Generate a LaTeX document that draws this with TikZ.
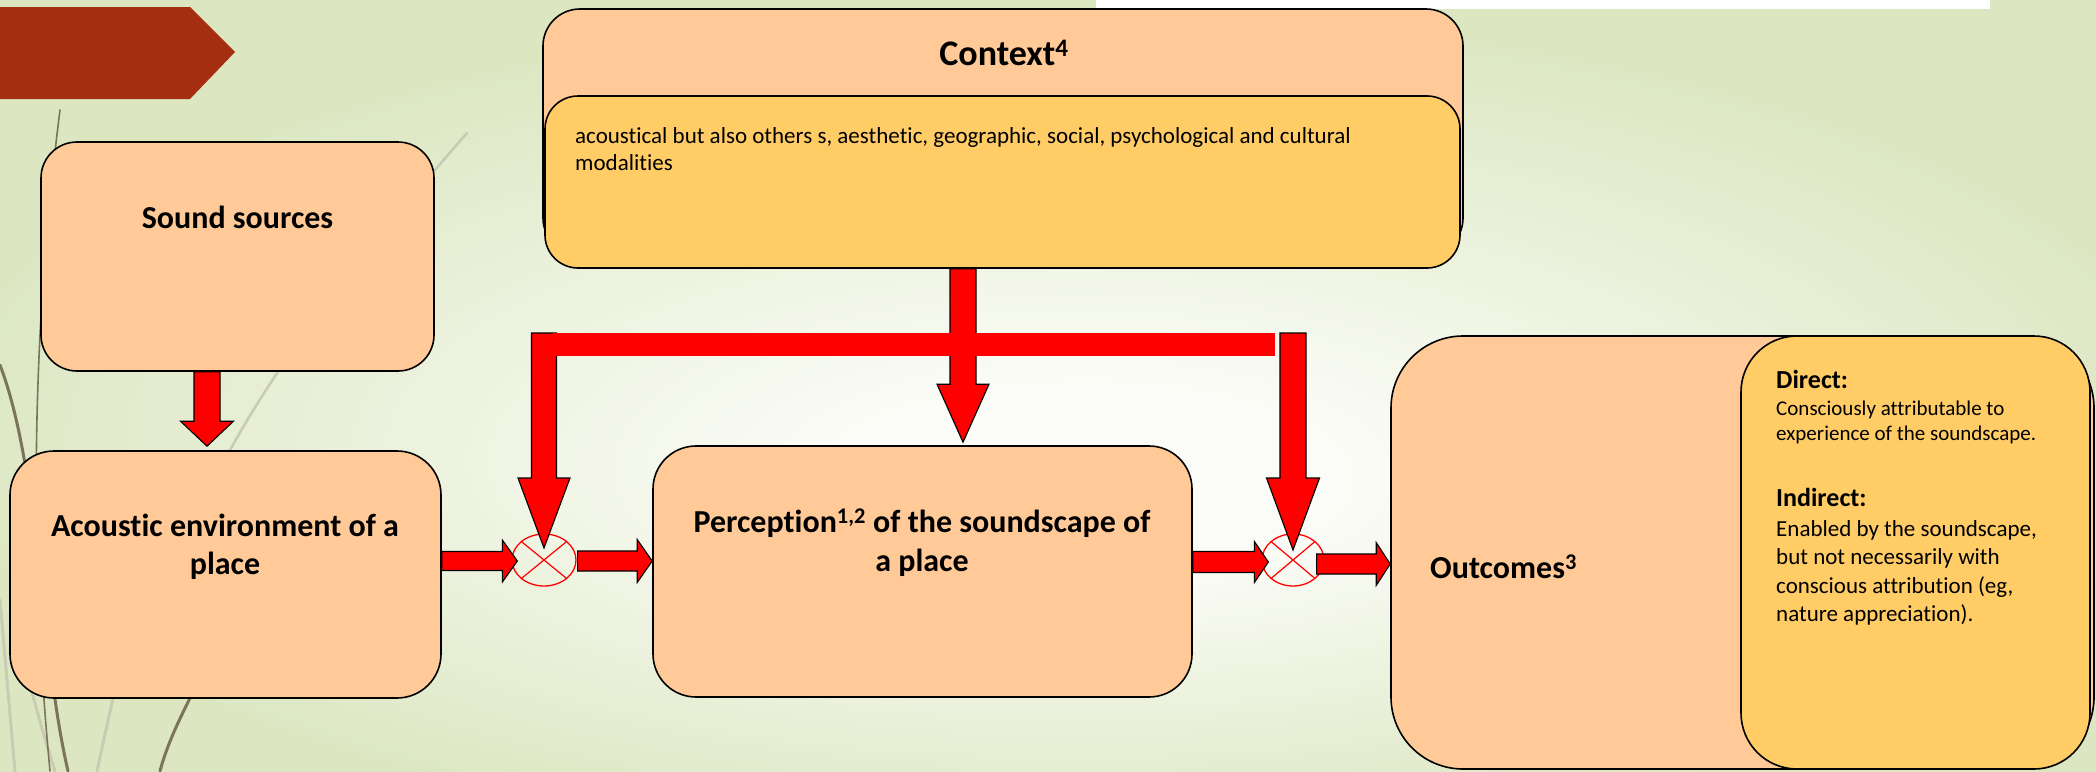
\documentclass[tikz,border=0pt]{standalone}
\usepackage{fontspec}
\setmainfont[Ligatures=NoCommon]{Carlito}
\usetikzlibrary{shapes.geometric,calc}

\definecolor{peach}{RGB}{255,202,152}
\definecolor{gold}{RGB}{255,204,102}
\definecolor{banner}{RGB}{165,46,17}
\definecolor{bgin}{RGB}{251,252,247}
\definecolor{bgout}{RGB}{220,231,194}
\definecolor{stemdark}{RGB}{122,116,90}
\definecolor{stemlight}{RGB}{200,204,178}

% soft slide background: pale centre fading to light green
\pgfdeclareradialshading{slidebg}{\pgfpoint{1bp}{-7bp}}{%
  color(0bp)=(bgin); color(6bp)=(bgin); color(27bp)=(bgout); color(45bp)=(bgout)}

% block arrow pointing down: start, tip, half shaft, half head, head length
\newcommand\dropblock[5]{%
  \draw[blockarrow] let \p1=(#1), \p2=(#2) in
    (\x2-#3,\y1) -- (\x2-#3,\y2+#5) -- (\x2-#4,\y2+#5) -- (\x2,\y2)
    -- (\x2+#4,\y2+#5) -- (\x2+#3,\y2+#5) -- (\x2+#3,\y1) -- cycle;}
% block arrow pointing right: start, tip, half shaft, half head, head length
\newcommand\pushblock[5]{%
  \draw[blockarrow] let \p1=(#1), \p2=(#2) in
    (\x1,\y2+#3) -- (\x2-#5,\y2+#3) -- (\x2-#5,\y2+#4) -- (\x2,\y2)
    -- (\x2-#5,\y2-#4) -- (\x2-#5,\y2-#3) -- (\x1,\y2-#3) -- cycle;}

\begin{document}
\begin{tikzpicture}[x=1pt,y=-1pt,
  box/.style={rectangle, draw=black, line width=1.6pt, fill=peach,
    rounded corners=#1, inner sep=0pt},
  box/.default=40pt,
  goldbox/.style={box=#1, fill=gold},
  blockarrow/.style={fill=red, draw=black, line width=1.1pt, line join=miter},
  junction/.style={ellipse, draw=red, line width=1.3pt, minimum width=64pt,
    minimum height=52pt, inner sep=0pt},
  heading/.style={font=\fontsize{32}{39}\selectfont\bfseries, align=center, inner sep=0pt},
  bodytext/.style={align=left, inner sep=0pt},
  stem/.style={line width=#1, line cap=round},
]
\useasboundingbox (0,0) rectangle (2096,771);
\shade[shading=slidebg] (0,0) rectangle (2096,771);
\fill[white] (1096,0) rectangle (1990,9);

% grass stems at the left margin
\draw[stem=2.6pt, stemlight] (467,133) .. controls (330,290) and (230,420) .. (180,560);
\draw[stem=3pt, stemlight] (0,600) -- (15,771);
\draw[stem=3pt, stemlight] (113,698) -- (97,771);
\draw[stem=3pt, stemlight] (20,640) .. controls (30,690) and (45,740) .. (55,771);
\draw[stem=1.6pt, stemdark] (60,110) .. controls (36,300) and (26,520) .. (50,771);
\draw[stem=3pt, stemdark] (0,365) .. controls (40,470) and (40,650) .. (68,771);
\draw[stem=3pt, stemdark] (230,610) .. controls (215,660) and (175,715) .. (160,771);

% title banner
\fill[banner] (0,7) -- (190,7) -- (235,52) -- (190,99) -- (0,99) -- cycle;

% boxes
\node[box=36pt, minimum width=393pt, minimum height=229pt] (src) at (237.5,256.5) {};
\node[box=44pt, minimum width=431pt, minimum height=247pt] (env) at (225.5,574.5) {};
\node[box=43pt, minimum width=539pt, minimum height=251pt] (per) at (922.5,571.5) {};
\node[box=37pt, minimum width=920pt, minimum height=246pt] (ctx) at (1003,132) {};
\node[goldbox=33pt, minimum width=915pt, minimum height=172pt] (ctxin) at (1002.5,182) {};
\node[box=72pt, minimum width=703pt, minimum height=433pt] (out) at (1742.5,552.5) {};
\node[goldbox=56pt, minimum width=349pt, minimum height=433pt] (outin) at (1915.5,552.5) {};

% junctions
\node[junction] (j1) at (544,560) {};
\node[junction, minimum width=62pt] (j2) at (1293,560) {};
\draw[red, line width=1.2pt] (j1.north west) -- (j1.south east) (j1.north east) -- (j1.south west);
\draw[red, line width=1.2pt] (j2.north west) -- (j2.south east) (j2.north east) -- (j2.south west);

% vertical connectors
\coordinate (s1) at ($(src.south)+(-30.5,0)$);
\coordinate (t1) at ($(env.north)+(-18.5,-4)$);
\dropblock{s1}{t1}{13pt}{26.5pt}{25pt}
\coordinate (cp) at ($(per.north)+(40.5,-3)$);
\dropblock{ctxin.south}{cp}{13pt}{26pt}{58pt}
\coordinate (barL) at (544,333);
\coordinate (barR) at (1293,333);
\coordinate (barE) at (1275,356);
\dropblock{barL}{$(j1.center)+(0,-12)$}{12.5pt}{26pt}{70pt}
\dropblock{barR}{$(j2.center)+(0,-10)$}{13pt}{26.5pt}{72pt}
\fill[red] ($(barL)+(9,0)$) rectangle (barE);

% horizontal connectors
\pushblock{env.east}{$(j1.west)+(6,1)$}{9.5pt}{21pt}{15pt}
\pushblock{$(j1.east)+(1,0)$}{$(j1 -| per.west)+(0,1)$}{10pt}{21.5pt}{15pt}
\pushblock{per.east}{$(j2.west)+(7,2)$}{10.5pt}{20.5pt}{14pt}
\pushblock{$(j2.east)+(-8,0)$}{$(j2 -| out.west)+(0,4)$}{10pt}{21.5pt}{14pt}

% texts
\node[heading] (srct) at (237.5,217) {Sound sources};
\node[heading, font=\fontsize{32}{38}\selectfont\bfseries] (envt) at (225,547) {Acoustic environment of a\\place};
\node[heading] (pert) at (922,543) {Perception\textsuperscript{1,2} of the soundscape of\\a place};
\node[heading, font=\fontsize{36}{43}\selectfont\bfseries] (ctxt) at (1004,53) {Context\textsuperscript{4}};
\node[bodytext, anchor=north west, font=\fontsize{23}{27}\selectfont] (ctxb) at (575,127)
  {acoustical but also others s, aesthetic, geographic, social, psychological and cultural\\modalities};
\node[heading, anchor=west] (outt) at (1430,567) {Outcomes\textsuperscript{3}};
\node[bodytext, anchor=base west, font=\fontsize{26}{31}\selectfont\bfseries] (dirh) at (1776,388) {Direct:};
\node[bodytext, anchor=north west, font=\fontsize{21}{24.5}\selectfont] (dirb) at (1776,401)
  {Consciously attributable to\\experience of the soundscape.};
\node[bodytext, anchor=base west, font=\fontsize{26}{31}\selectfont\bfseries] (indh) at (1776,506) {Indirect:};
\node[bodytext, anchor=north west, font=\fontsize{23}{28.5}\selectfont] (indb) at (1776,520)
  {Enabled by the soundscape,\\but not necessarily with\\conscious attribution (eg,\\nature appreciation).};
\end{tikzpicture}
\end{document}
